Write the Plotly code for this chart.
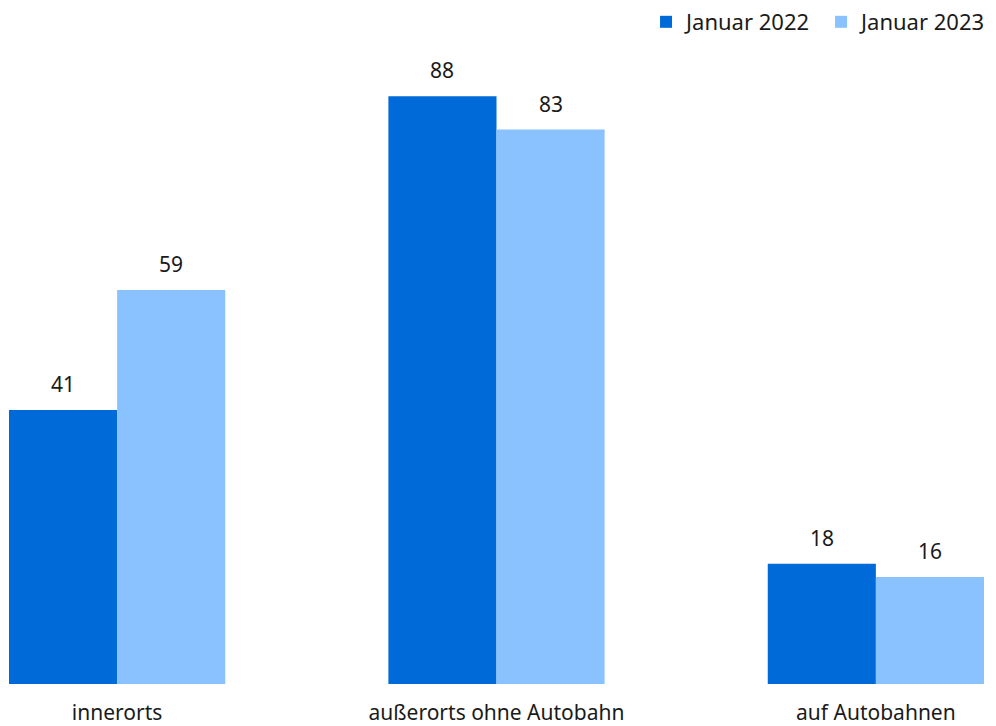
import plotly.graph_objects as go

categories = ["innerorts", "außerorts ohne Autobahn", "auf Autobahnen"]
jan_2022 = [41, 88, 18]
jan_2023 = [59, 83, 16]
series_names = ["Januar 2022", "Januar 2023"]

FONT = "Noto Sans"
TXT = "#1a1a1a"
COLORS = ["#006AD8", "#8AC2FF"]
BARGAP = 0.43

fig = go.Figure()
for name, vals, col in zip(series_names, [jan_2022, jan_2023], COLORS):
    fig.add_trace(go.Bar(
        x=categories, y=vals, name=name,
        marker=dict(color=col, line=dict(width=0)),
        hoverinfo="x+y+name",
    ))

# value labels above bars
half = (1 - BARGAP) / 4
for k, vals in enumerate([jan_2022, jan_2023]):
    off = -half if k == 0 else half
    for i, v in enumerate(vals):
        fig.add_annotation(
            x=i + off, y=v, xref="x", yref="y", text=str(v),
            showarrow=False, yanchor="bottom", yshift=10,
            font=dict(family=FONT, size=21, color=TXT),
        )

fig.update_layout(
    width=996, height=726,
    margin=dict(l=1, r=20, t=8, b=50, autoexpand=False),
    paper_bgcolor="white", plot_bgcolor="white",
    barmode="group", bargap=BARGAP, bargroupgap=0,
    font=dict(family=FONT, size=21, color=TXT),
    xaxis=dict(range=[-0.285, 2.285], showgrid=False, showline=False,
               zeroline=False, ticks="outside", ticklen=10,
               tickcolor="rgba(0,0,0,0)", tickfont=dict(size=21)),
    yaxis=dict(range=[0, 100], visible=False),
    legend=dict(orientation="h", xref="container", x=0.992, xanchor="right",
                y=0.991, yanchor="middle",
                font=dict(size=22), itemwidth=30, entrywidth=130,
                traceorder="normal", bgcolor="rgba(0,0,0,0)"),
    showlegend=True,
)

fig.write_html("out.html")
